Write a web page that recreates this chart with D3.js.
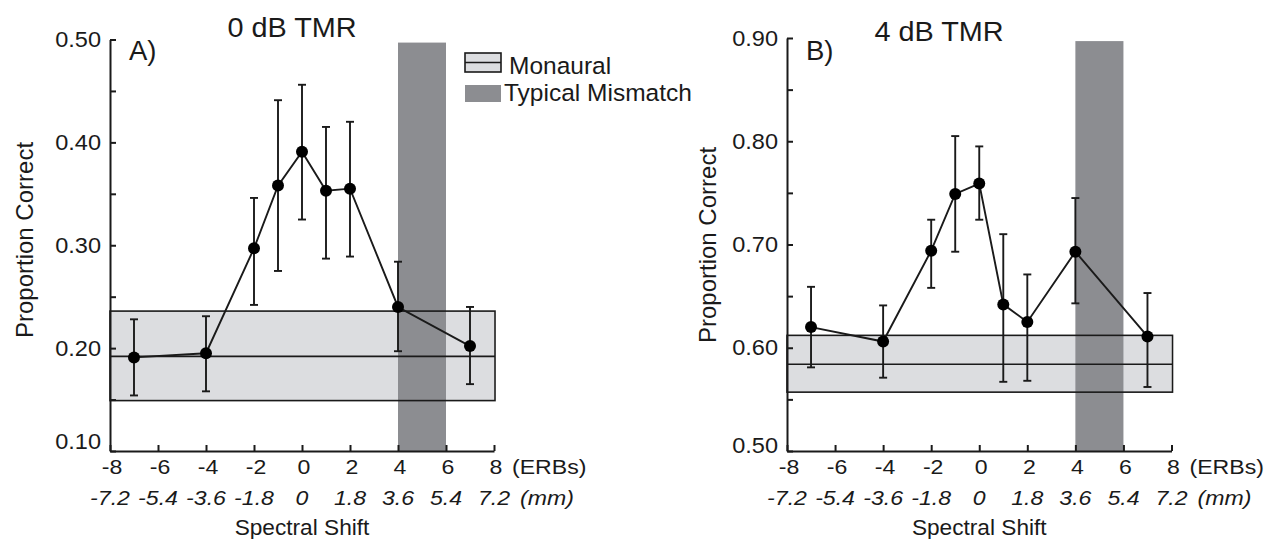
<!DOCTYPE html>
<html>
<head>
<meta charset="utf-8">
<script src="https://cdn.jsdelivr.net/npm/d3@7/dist/d3.min.js"></script>
<style>
  body { margin: 0; background: #fff; }
  text { font-family: "Liberation Sans", Arial, sans-serif; fill: #1a1a1a; }
</style>
</head>
<body>
<div id="chart"></div>
<script>
// spectral shift (ERBs) of each condition
const shifts = [-7, -4, -2, -1, 0, 1, 2, 4, 7];

// A) 0 dB TMR
const meanA = [0.191, 0.195, 0.297, 0.358, 0.391, 0.353, 0.355, 0.240, 0.202];
const hiA   = [0.228, 0.231, 0.346, 0.441, 0.456, 0.415, 0.420, 0.284, 0.240];
const loA   = [0.154, 0.158, 0.242, 0.275, 0.325, 0.287, 0.289, 0.197, 0.165];
const monauralA = [0.149, 0.192, 0.236]; // low, mean, high

// B) 4 dB TMR
const meanB = [0.620, 0.606, 0.694, 0.749, 0.759, 0.642, 0.625, 0.693, 0.611];
const hiB   = [0.659, 0.641, 0.724, 0.805, 0.795, 0.710, 0.671, 0.745, 0.653];
const loB   = [0.581, 0.571, 0.658, 0.693, 0.724, 0.567, 0.568, 0.643, 0.562];
const monauralB = [0.557, 0.584, 0.612];

// typical mismatch region (ERBs)
const mismatch = [4, 6];

const xTicks = [-8, -6, -4, -2, 0, 2, 4, 6, 8];
const mmLabels = ["-7.2", "-5.4", "-3.6", "-1.8", "0", "1.8", "3.6", "5.4", "7.2"];
const yTicksA = [0.10, 0.20, 0.30, 0.40, 0.50];
const yMinorA = [0.15, 0.25, 0.35, 0.45];
const yTicksB = [0.50, 0.60, 0.70, 0.80, 0.90];
const yMinorB = [0.55, 0.65, 0.75, 0.85];

const W = 1270, H = 539;
const ink = "#1a1a1a";

const svg = d3.select("#chart").append("svg")
    .attr("width", W).attr("height", H);

// text with a horizontal stretch, the figure's fonts are a bit wide
function txt(g, x, y, s, o) {
    return g.append("text")
        .attr("transform", `translate(${x},${y}) scale(${o.sx || 1},1)` + (o.rot ? ` rotate(${o.rot})` : ""))
        .attr("text-anchor", o.anchor || "start")
        .attr("font-size", o.size)
        .attr("font-style", o.italic ? "italic" : null)
        .text(s);
}

function panel(p) {
    const g = svg.append("g");
    const x = d3.scaleLinear().domain([-8, 8]).range([p.x0, p.x1]);
    const y = d3.scaleLinear().domain(p.yDomain).range([451, p.yTop]);

    // monaural band fill
    g.append("rect")
        .attr("x", x(-8)).attr("width", x(8) - x(-8))
        .attr("y", y(p.mon[2])).attr("height", y(p.mon[0]) - y(p.mon[2]))
        .attr("fill", "#dcdde0");

    // typical mismatch bar
    g.append("rect")
        .attr("x", x(mismatch[0])).attr("width", x(mismatch[1]) - x(mismatch[0]))
        .attr("y", y(p.barTop)).attr("height", y(p.yDomain[0]) - y(p.barTop))
        .attr("fill", "#8c8d91");

    // band outline and mean line
    g.append("rect")
        .attr("x", x(-8)).attr("width", x(8) - x(-8) + 1)
        .attr("y", y(p.mon[2])).attr("height", y(p.mon[0]) - y(p.mon[2]))
        .attr("fill", "none").attr("stroke", ink).attr("stroke-width", 1.6);
    g.append("line")
        .attr("x1", x(-8)).attr("x2", x(8) + 1)
        .attr("y1", y(p.mon[1])).attr("y2", y(p.mon[1]))
        .attr("stroke", ink).attr("stroke-width", 1.6);

    const pts = shifts.map((s, i) => ({ s, m: p.mean[i], lo: p.lo[i], hi: p.hi[i] }));

    g.append("path").datum(pts)
        .attr("d", d3.line().x(d => x(d.s)).y(d => y(d.m)))
        .attr("fill", "none").attr("stroke", ink).attr("stroke-width", 1.9);

    const eb = g.selectAll(".eb").data(pts).enter().append("g");
    eb.append("line")
        .attr("x1", d => x(d.s)).attr("x2", d => x(d.s))
        .attr("y1", d => y(d.lo)).attr("y2", d => y(d.hi))
        .attr("stroke", ink).attr("stroke-width", 1.9);
    eb.append("line")
        .attr("x1", d => x(d.s) - 4).attr("x2", d => x(d.s) + 4)
        .attr("y1", d => y(d.hi)).attr("y2", d => y(d.hi))
        .attr("stroke", ink).attr("stroke-width", 1.9);
    eb.append("line")
        .attr("x1", d => x(d.s) - 4).attr("x2", d => x(d.s) + 4)
        .attr("y1", d => y(d.lo)).attr("y2", d => y(d.lo))
        .attr("stroke", ink).attr("stroke-width", 1.9);
    eb.append("circle")
        .attr("cx", d => x(d.s)).attr("cy", d => y(d.m)).attr("r", 6)
        .attr("fill", "#000");

    // axes, ticks pointing inwards
    const yAxis = d3.axisLeft(y).tickValues(p.yTicks.concat(p.yMinor))
        .tickSizeInner(-6).tickSizeOuter(0).tickFormat("");
    g.append("g").attr("transform", `translate(${x(-8)},0)`).call(yAxis)
        .call(a => a.selectAll("path,line").attr("stroke", ink).attr("stroke-width", 2));
    const xAxis = d3.axisBottom(x).tickValues(xTicks)
        .tickSizeInner(-6).tickSizeOuter(0).tickFormat("");
    g.append("g").attr("transform", `translate(0,${y(p.yDomain[0])})`).call(xAxis)
        .call(a => a.selectAll("path,line").attr("stroke", ink).attr("stroke-width", 2));

    // tick labels
    p.yTicks.forEach((v, i) => {
        const dy = i === 0 ? p.firstLift : 0;
        txt(g, x(-8) - 9, y(v) + 7.5 - dy, d3.format(".2f")(v), { size: 22, anchor: "end", sx: 1.07 });
    });
    xTicks.forEach((v, i) => {
        txt(g, x(v) + 2, 474, String(v), { size: 21, anchor: "middle", sx: 1.1 });
        txt(g, x(v), 505, mmLabels[i], { size: 21, anchor: "middle", italic: true, sx: 1.1 });
    });
    txt(g, x(8) + 18, 474, "(ERBs)", { size: 21, sx: 1.1 });
    txt(g, x(8) + 26, 505, "(mm)", { size: 21, italic: true, sx: 1.1 });

    txt(g, x(0), 535, "Spectral Shift", { size: 22, anchor: "middle", sx: 1.03 });
    txt(g, p.yLabX, p.yLabY, "Proportion Correct", { size: 24, anchor: "middle", rot: -90 });
    txt(g, p.titleX, p.titleY, p.title, { size: 28, anchor: "middle", sx: 1.03 });
    txt(g, x(-8) + 19, 60, p.letter, { size: 27, sx: 1.02 });
}

panel({
    x0: 110, x1: 494, yDomain: [0.10, 0.50], yTop: 39.5,
    mean: meanA, lo: loA, hi: hiA, mon: monauralA, barTop: 0.497,
    yTicks: yTicksA, yMinor: yMinorA, firstLift: 10,
    yLabX: 33, yLabY: 240, title: "0 dB TMR", titleX: 292, titleY: 37, letter: "A)"
});

panel({
    x0: 787, x1: 1171.5, yDomain: [0.50, 0.90], yTop: 38,
    mean: meanB, lo: loB, hi: hiB, mon: monauralB, barTop: 0.897,
    yTicks: yTicksB, yMinor: yMinorB, firstLift: 6,
    yLabX: 716, yLabY: 245, title: "4 dB TMR", titleX: 939, titleY: 41, letter: "B)"
});

// legend
const lg = svg.append("g");
lg.append("rect").attr("x", 465).attr("y", 53).attr("width", 36).attr("height", 19)
    .attr("fill", "#dcdde0").attr("stroke", ink).attr("stroke-width", 1.6);
lg.append("line").attr("x1", 465).attr("x2", 501).attr("y1", 62.5).attr("y2", 62.5)
    .attr("stroke", ink).attr("stroke-width", 1.6);
lg.append("rect").attr("x", 465).attr("y", 85).attr("width", 36).attr("height", 17)
    .attr("fill", "#8c8d91");
txt(lg, 509, 74, "Monaural", { size: 24.5 });
txt(lg, 504, 101, "Typical Mismatch", { size: 24.5 });
</script>
</body>
</html>
